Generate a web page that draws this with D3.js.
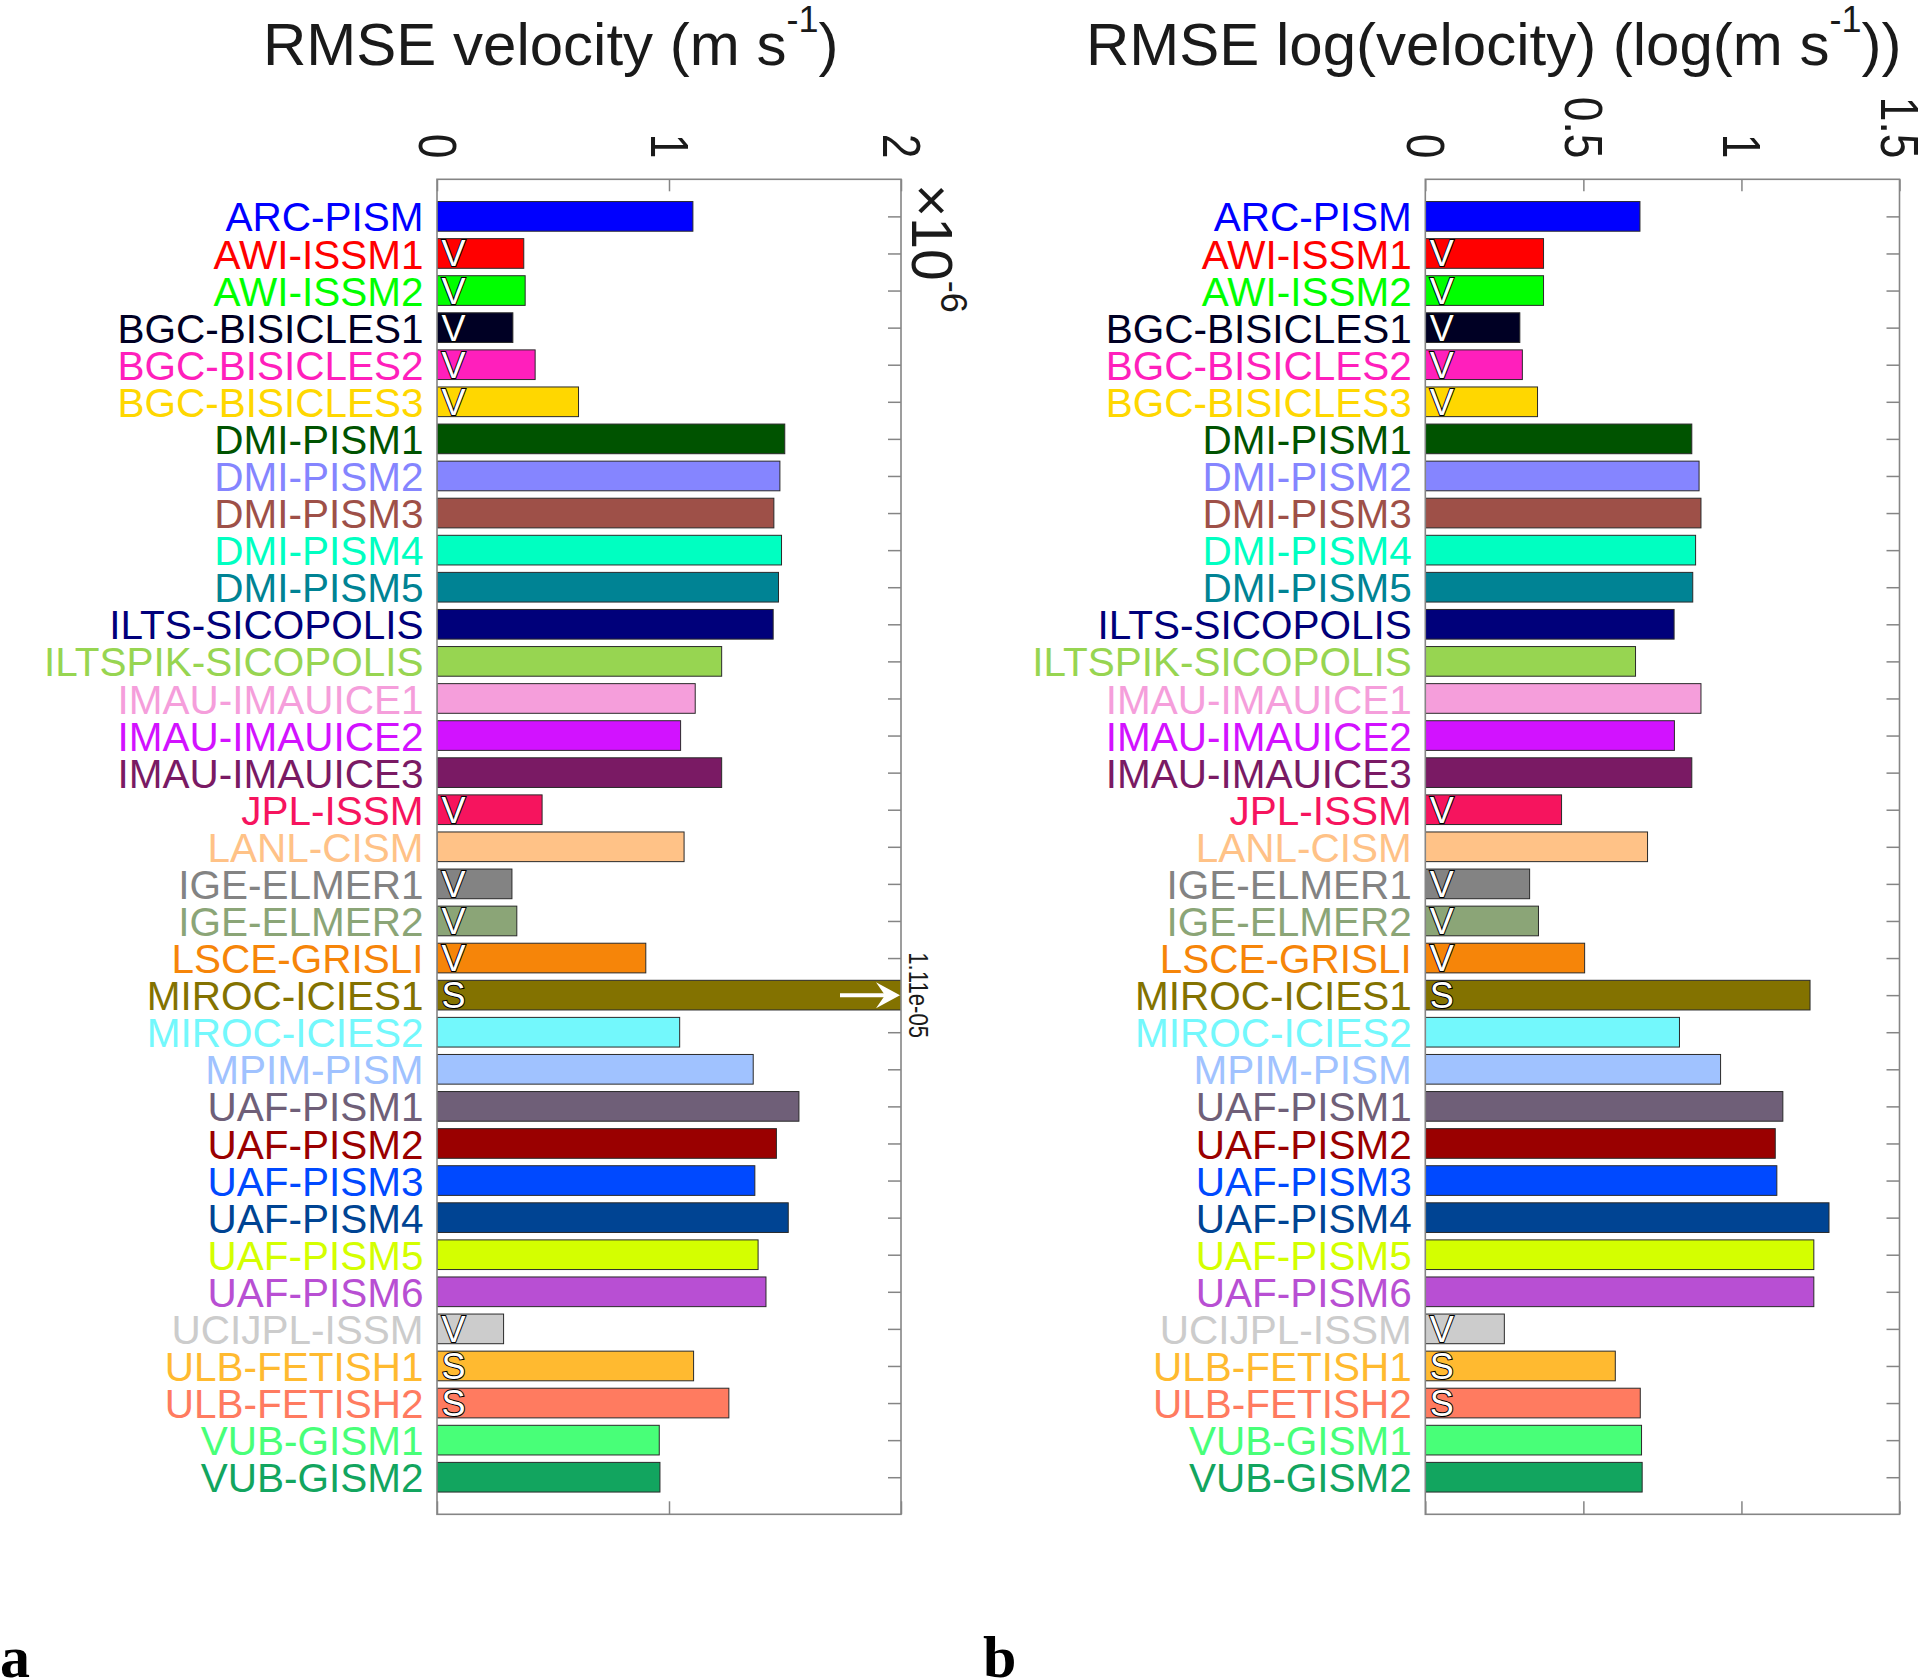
<!DOCTYPE html>
<html>
<head>
<meta charset="utf-8">
<script src="https://cdn.jsdelivr.net/npm/d3@7"></script>
<style>
  html, body { margin: 0; padding: 0; background: #ffffff; }
  svg { display: block; }
</style>
</head>
<body>
<svg id="chart" width="1920" height="1680"></svg>
<script>
// ---------------- data ----------------
const categories = [
  "ARC-PISM", "AWI-ISSM1", "AWI-ISSM2", "BGC-BISICLES1", "BGC-BISICLES2", "BGC-BISICLES3",
  "DMI-PISM1", "DMI-PISM2", "DMI-PISM3", "DMI-PISM4", "DMI-PISM5",
  "ILTS-SICOPOLIS", "ILTSPIK-SICOPOLIS",
  "IMAU-IMAUICE1", "IMAU-IMAUICE2", "IMAU-IMAUICE3",
  "JPL-ISSM", "LANL-CISM", "IGE-ELMER1", "IGE-ELMER2", "LSCE-GRISLI",
  "MIROC-ICIES1", "MIROC-ICIES2", "MPIM-PISM",
  "UAF-PISM1", "UAF-PISM2", "UAF-PISM3", "UAF-PISM4", "UAF-PISM5", "UAF-PISM6",
  "UCIJPL-ISSM", "ULB-FETISH1", "ULB-FETISH2", "VUB-GISM1", "VUB-GISM2"
];

const modelColors = [
  "#0000ff", "#ff0000", "#00ff00", "#000024", "#ff1fbc", "#ffd700",
  "#005300", "#8585ff", "#9e5048", "#00ffc1", "#008394",
  "#00007a", "#97d551",
  "#f59edb", "#d212ff", "#7a1a64",
  "#f6145e", "#ffc287", "#838383", "#8ba577", "#f68509",
  "#837200", "#73f8fc", "#a0c2ff",
  "#6f5f78", "#9a0000", "#0049ff", "#004493", "#d4ff00", "#b84fd3",
  "#cccccc", "#ffba30", "#ff7b60", "#48ff78", "#12a55f"
];

// RMSE velocity (m s^-1)
const rmseVelocity = [
  1.103e-6, 0.374e-6, 0.380e-6, 0.327e-6, 0.423e-6, 0.610e-6,
  1.499e-6, 1.478e-6, 1.452e-6, 1.485e-6, 1.472e-6,
  1.449e-6, 1.227e-6,
  1.113e-6, 1.050e-6, 1.227e-6,
  0.453e-6, 1.065e-6, 0.323e-6, 0.344e-6, 0.900e-6,
  1.11e-5, 1.046e-6, 1.363e-6,
  1.560e-6, 1.463e-6, 1.370e-6, 1.514e-6, 1.384e-6, 1.418e-6,
  0.287e-6, 1.106e-6, 1.258e-6, 0.958e-6, 0.961e-6
];

// RMSE log(velocity) (log(m s^-1))
const rmseLogVelocity = [
  0.679, 0.374, 0.374, 0.299, 0.307, 0.355,
  0.843, 0.866, 0.872, 0.855, 0.846,
  0.787, 0.665,
  0.872, 0.788, 0.843,
  0.431, 0.703, 0.330, 0.358, 0.504,
  1.217, 0.804, 0.934,
  1.131, 1.107, 1.112, 1.277, 1.229, 1.229,
  0.250, 0.601, 0.680, 0.684, 0.686
];

// marker letters drawn inside bars
const modelFlags = [
  "", "V", "V", "V", "V", "V",
  "", "", "", "", "",
  "", "",
  "", "", "",
  "V", "", "V", "V", "V",
  "S", "", "",
  "", "", "", "", "", "",
  "V", "S", "S", "", ""
];

const velTicks = [0, 1e-6, 2e-6];
const velTickLabels = ["0", "1", "2"];
const logTicks = [0, 0.5, 1, 1.5];
const logTickLabels = ["0", "0.5", "1", "1.5"];

const velTitle = "RMSE velocity (m s";
const velTitleEnd = ")";
const logTitle = "RMSE log(velocity) (log(m s";
const logTitleEnd = "))";
const titleSup = "-1";
const velExponent = "\u00d710";
const velExponentSup = "-6";
const offScaleLabel = "1.11e-05";
const panelLetters = ["a", "b"];

// ---------------- drawing ----------------
const svg = d3.select("#chart");
svg.append("rect").attr("width", 1920).attr("height", 1680).attr("fill", "#fff");

const FONT = "'Liberation Sans', Arial, Helvetica, sans-serif";
const TOP = 179.3, BOTTOM = 1514.3;
const frameColor = "#858585";

const rows = categories.map((c, i) => i + 1);

function drawPanel(cfg) {
  const g = svg.append("g");
  const x = d3.scaleLinear().domain(cfg.domain).range([cfg.left, cfg.right]);
  const y = d3.scaleLinear().domain([0, categories.length + 1]).range([TOP, BOTTOM]);
  const step = y(1) - y(0);
  const barH = step * 0.8;

  // top axis ticks (inward) + rotated labels
  const topAx = g.append("g").attr("transform", `translate(0,${TOP})`)
    .call(d3.axisTop(x).tickValues(cfg.ticks).tickSizeInner(-12).tickSizeOuter(0)
      .tickFormat((d, i) => cfg.tickLabels[i]));
  topAx.select(".domain").remove();
  topAx.selectAll(".tick line").attr("stroke", frameColor).attr("stroke-width", 1.5);
  topAx.selectAll(".tick text")
    .attr("x", null).attr("y", null).attr("dy", "0.35em")
    .attr("transform", "translate(0,-21) rotate(90) scale(0.82,1)")
    .attr("text-anchor", "end")
    .attr("fill", "#1a1a1a")
    .style("font-family", FONT).style("font-size", "54px");

  // bottom axis ticks (inward)
  const botAx = g.append("g").attr("transform", `translate(0,${BOTTOM})`)
    .call(d3.axisBottom(x).tickValues(cfg.ticks).tickSizeInner(-13).tickSizeOuter(0).tickFormat(""));
  botAx.select(".domain").remove();
  botAx.selectAll(".tick line").attr("stroke", frameColor).attr("stroke-width", 1.5);

  // right axis ticks (inward)
  const rightAx = g.append("g").attr("transform", `translate(${cfg.right},0)`)
    .call(d3.axisRight(y).tickValues(rows).tickSizeInner(-13).tickSizeOuter(0).tickFormat(""));
  rightAx.select(".domain").remove();
  rightAx.selectAll(".tick line").attr("stroke", frameColor).attr("stroke-width", 1.5);

  // category labels via left axis
  const leftAx = g.append("g").attr("transform", `translate(${cfg.left},0)`)
    .call(d3.axisLeft(y).tickValues(rows).tickSize(0).tickPadding(13.5)
      .tickFormat(d => categories[d - 1]));
  leftAx.select(".domain").remove();
  leftAx.selectAll(".tick text")
    .attr("dy", "0.36em")
    .attr("fill", d => modelColors[d - 1])
    .style("font-family", FONT).style("font-size", "40.5px");

  // bars
  const clipId = "clip-" + cfg.id;
  svg.append("clipPath").attr("id", clipId)
    .append("rect").attr("x", cfg.left).attr("y", TOP).attr("width", cfg.right - cfg.left).attr("height", BOTTOM - TOP);

  const barsG = g.append("g").attr("clip-path", `url(#${clipId})`);
  barsG.selectAll("rect.bar").data(cfg.values).join("rect")
    .attr("class", "bar")
    .attr("x", x(0))
    .attr("y", (d, i) => y(i + 1) - barH / 2)
    .attr("width", d => Math.max(0, Math.min(x(d), cfg.right + 5) - x(0)))
    .attr("height", barH)
    .attr("fill", (d, i) => modelColors[i])
    .attr("stroke", "#2a2a2a")
    .attr("stroke-width", 1);

  // V / S markers
  g.selectAll("text.flag").data(modelFlags.map((f, i) => ({ f, i })).filter(d => d.f)).join("text")
    .attr("class", "flag")
    .attr("x", x(0) + 4.5)
    .attr("y", d => y(d.i + 1) + 13)
    .attr("fill", "#ffffff")
    .attr("stroke", "#000000")
    .attr("stroke-width", 2)
    .attr("paint-order", "stroke")
    .style("font-family", FONT).style("font-size", "36px")
    .text(d => d.f);

  // frame
  g.append("rect")
    .attr("x", cfg.left).attr("y", TOP)
    .attr("width", cfg.right - cfg.left).attr("height", BOTTOM - TOP)
    .attr("fill", "none").attr("stroke", frameColor).attr("stroke-width", 1.6);

  // title
  const t = svg.append("text")
    .attr("x", cfg.titleX).attr("y", 65)
    .attr("fill", "#1a1a1a")
    .style("font-family", FONT).style("font-size", "60px");
  t.append("tspan").text(cfg.title);
  t.append("tspan").attr("dy", -33).style("font-size", "36px").text(titleSup);
  t.append("tspan").attr("dy", 33).text(cfg.titleEnd);

  return { x, y, g, barH };
}

const left = drawPanel({
  id: "vel", left: 437, right: 901, domain: [0, 2e-6],
  values: rmseVelocity, ticks: velTicks, tickLabels: velTickLabels,
  title: velTitle, titleEnd: velTitleEnd, titleX: 263
});

const right = drawPanel({
  id: "log", left: 1425.3, right: 1899.5, domain: [0, 1.5],
  values: rmseLogVelocity, ticks: logTicks, tickLabels: logTickLabels,
  title: logTitle, titleEnd: logTitleEnd, titleX: 1086
});

// exponent label of left panel (rotated)
const expT = svg.append("text")
  .attr("transform", "translate(912,184) rotate(90)")
  .attr("fill", "#1a1a1a")
  .style("font-family", FONT).style("font-size", "57px");
expT.append("tspan").text(velExponent);
expT.append("tspan").attr("dy", -29).style("font-size", "36px").text(velExponentSup);

// off-scale annotation for MIROC-ICIES1
const mirocIdx = categories.indexOf("MIROC-ICIES1");
const xe = left.x.range()[1];
const cy = left.y(mirocIdx + 1);
svg.append("line")
  .attr("x1", xe - 61).attr("x2", xe - 14)
  .attr("y1", cy).attr("y2", cy)
  .attr("stroke", "#ffffff").attr("stroke-width", 4);
svg.append("path")
  .attr("d", d3.line()([[xe - 1, cy], [xe - 25, cy - 13], [xe - 16, cy], [xe - 25, cy + 13]]) + "Z")
  .attr("fill", "#ffffff");
svg.append("text")
  .attr("transform", `translate(${xe + 8},${cy}) rotate(90) scale(0.82,1)`)
  .attr("text-anchor", "middle")
  .attr("fill", "#1a1a1a")
  .style("font-family", FONT).style("font-size", "27px")
  .text(offScaleLabel);

// panel letters
svg.selectAll("text.panel").data(panelLetters).join("text")
  .attr("class", "panel")
  .attr("x", (d, i) => i === 0 ? 0 : 983)
  .attr("y", 1677)
  .attr("fill", "#000")
  .style("font-family", "'Liberation Serif', 'Times New Roman', serif")
  .style("font-weight", "bold")
  .style("font-size", "60px")
  .text(d => d);
</script>
</body>
</html>
